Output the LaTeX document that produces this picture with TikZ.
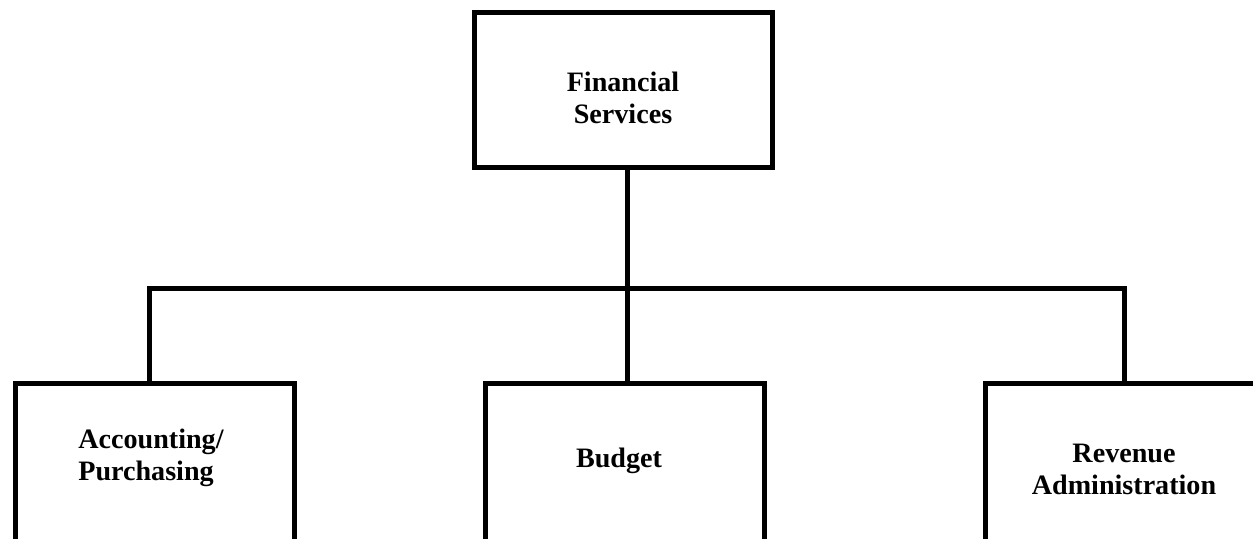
\documentclass[tikz,border=0pt]{standalone}
\usepackage{fontspec}
\setmainfont{Liberation Serif}
\usepackage{tikz}
\usetikzlibrary{positioning}
\tikzset{
  unit/.style={draw,line width=0.1cm,minimum width=5.58cm,minimum height=4.33cm,inner sep=0pt,outer sep=0pt},
  head/.style={unit,minimum width=5.96cm,minimum height=3.1cm},
  lbl/.style={font=\fontsize{16}{18}\selectfont\bfseries,inner sep=0pt},
  link/.style={line width=0.1cm,line join=miter}
}
\begin{document}
\begin{tikzpicture}[x=0.02cm,y=-0.02cm]
        \clip (0,0) rectangle (1253,538);
        % boxes
        \node[head] (fs) at (623.5,90){};
        \node[unit] (acc) at (155,491.75){};
        \node[unit] (bud) at (625,491.75){};
        \node[unit] (rev) at (1125,491.75){};
        % texts
        \node[lbl,align=center] (fs-txt) at (623,98) {Financial\\Services};
        \node[lbl,align=left,anchor=west] (acc-txt) at (78,458) {Accounting/\\Purchasing};
        \node[lbl,anchor=base] (bud-txt) at (619,467) {Budget};
        \node[lbl,align=center] (rev-txt) at (1124,469.5) {Revenue\\Administration};
        % bus
        \coordinate (bus) at (627,288.5);
        \coordinate (busl) at (149,288.5);
        \coordinate (busr) at (1124,288.5);
        \draw[link] (busl |- acc.north) -- (busl) -- (busr) -- (busr |- rev.north);
        \draw[link] (fs.south -| bus) -- (bud.north -| bus);
    \end{tikzpicture}
\end{document}
